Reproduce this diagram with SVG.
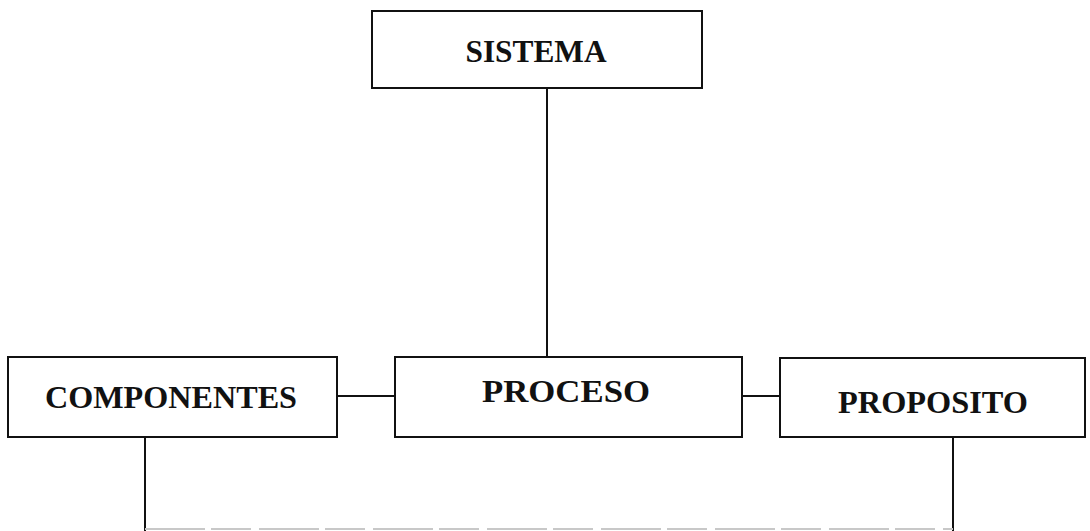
<svg xmlns="http://www.w3.org/2000/svg" width="1090" height="531" viewBox="0 0 1090 531">
  <style>
    .box { fill: #ffffff; stroke: #111111; stroke-width: 2; }
    .lbl { font-family: "Liberation Serif", "Times New Roman", serif; font-weight: bold; font-size: 32px; fill: #111111; text-anchor: middle; }
    .wire { fill: none; stroke: #111111; stroke-width: 2; }
    .faint { fill: none; stroke: #c8c8c8; stroke-width: 2; stroke-dasharray: 60 6 40 8; }
  </style>
  <rect width="1090" height="531" fill="#ffffff"/>

  <g id="connectors">
    <line class="wire" x1="547" y1="88" x2="547" y2="357"/>
    <line class="wire" x1="337" y1="396" x2="395" y2="396"/>
    <line class="wire" x1="742" y1="396" x2="780" y2="396"/>
    <line class="wire" x1="145" y1="437" x2="145" y2="531"/>
    <line class="wire" x1="953" y1="437" x2="953" y2="531"/>
    <line class="faint" x1="145" y1="529" x2="953" y2="529"/>
  </g>

  <g id="sistema">
    <rect class="box" x="372" y="11" width="330" height="77"/>
    <text class="lbl" x="536" y="62" textLength="141" lengthAdjust="spacingAndGlyphs">SISTEMA</text>
  </g>

  <g id="componentes">
    <rect class="box" x="8" y="357" width="329" height="80"/>
    <text class="lbl" x="171" y="408" textLength="252" lengthAdjust="spacingAndGlyphs">COMPONENTES</text>
  </g>

  <g id="proceso">
    <rect class="box" x="395" y="357" width="347" height="80"/>
    <text class="lbl" x="566" y="402" textLength="168" lengthAdjust="spacingAndGlyphs">PROCESO</text>
  </g>

  <g id="proposito">
    <rect class="box" x="780" y="358" width="305" height="79"/>
    <text class="lbl" x="933" y="413" textLength="190" lengthAdjust="spacingAndGlyphs">PROPOSITO</text>
  </g>
</svg>
